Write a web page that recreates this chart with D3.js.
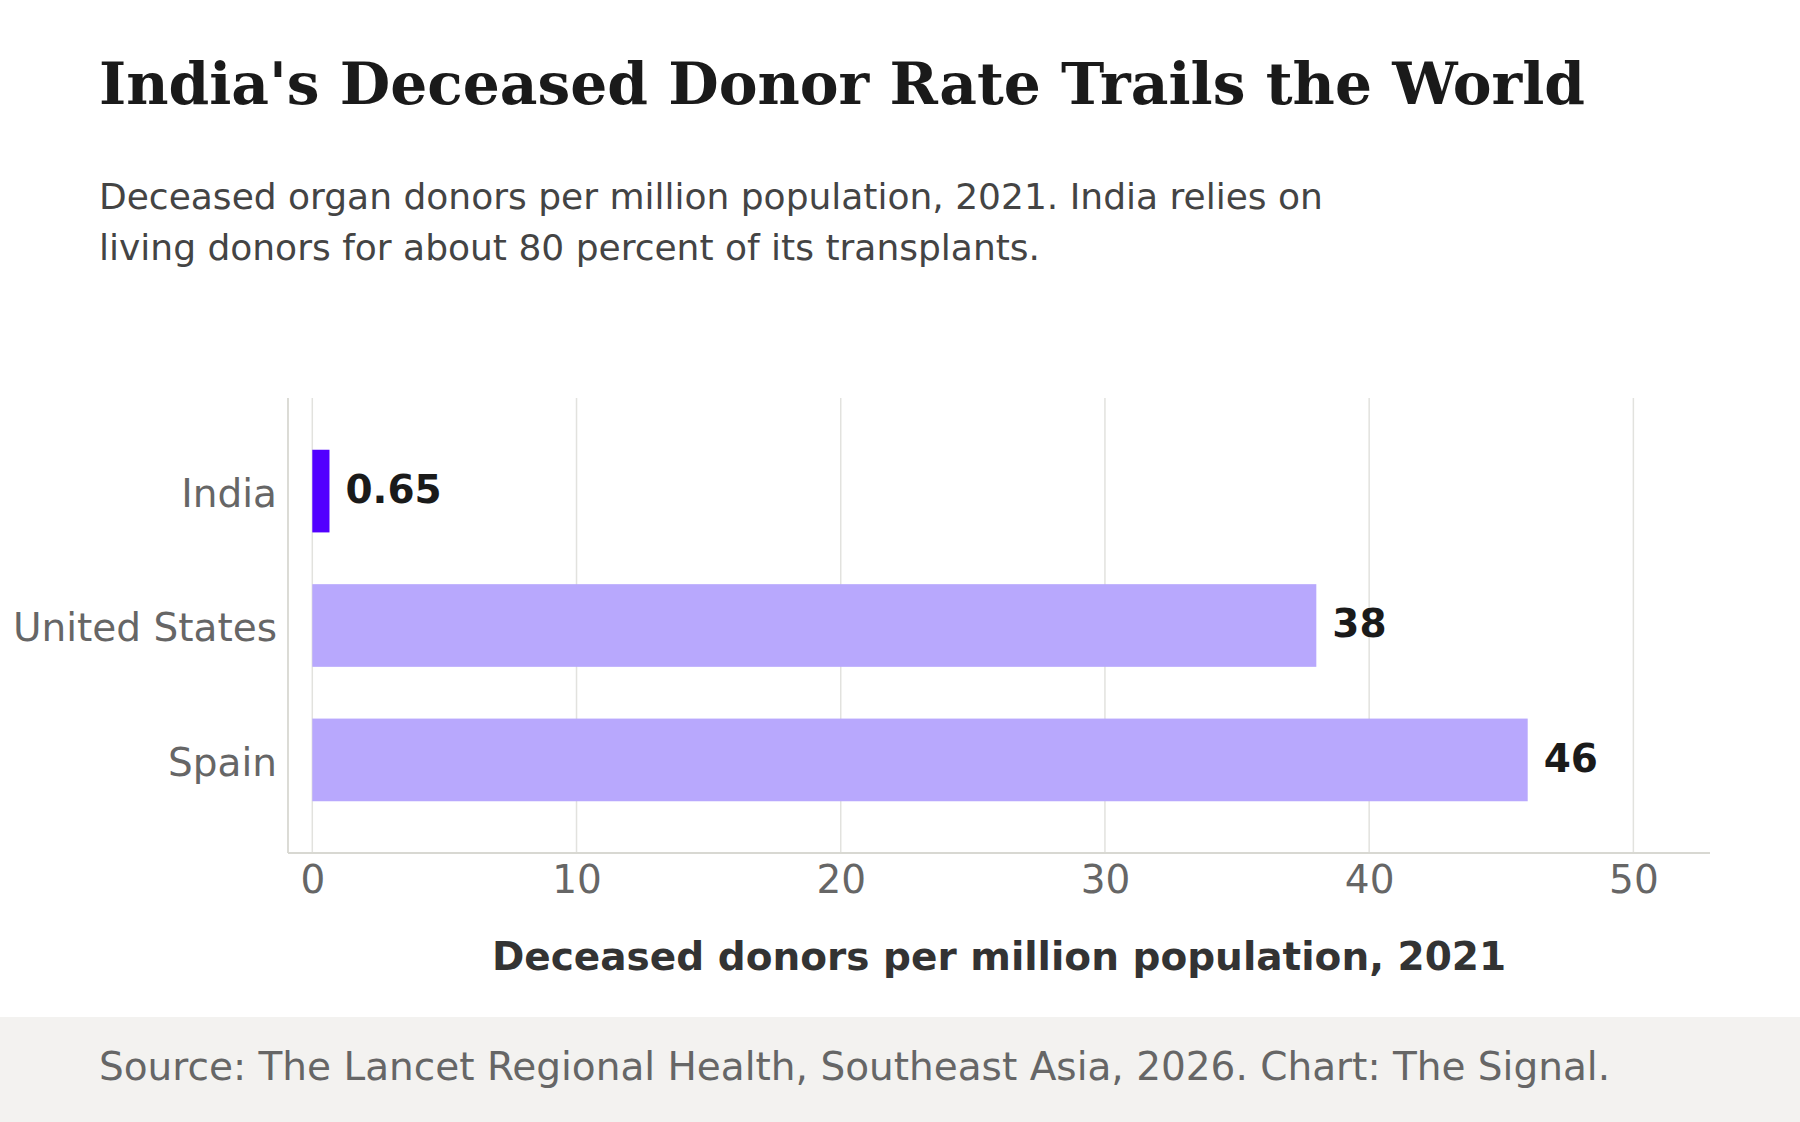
<!DOCTYPE html>
<html>
<head>
<meta charset="utf-8">
<script src="https://cdn.jsdelivr.net/npm/d3@7"></script>
<style>
  html, body { margin: 0; padding: 0; background: #ffffff; }
  svg { display: block; }
</style>
</head>
<body>
<svg id="chart" width="1800" height="1122"></svg>
<script>
const categories = ["India", "United States", "Spain"];
const values = [0.65, 38, 46];
const valueLabels = ["0.65", "38", "46"];
const xTicks = [0, 10, 20, 30, 40, 50];
const highlight = "India";

const titleText = "India's Deceased Donor Rate Trails the World";
const subtitleLines = [
  "Deceased organ donors per million population, 2021. India relies on",
  "living donors for about 80 percent of its transplants."
];
const xAxisTitle = "Deceased donors per million population, 2021";
const sourceText = "Source: The Lancet Regional Health, Southeast Asia, 2026. Chart: The Signal.";

const W = 1800, H = 1122;
const svg = d3.select("#chart");

const plot = { left: 288, right: 1710, top: 398, bottom: 853 };

const x = d3.scaleLinear().domain([-0.92, 52.9]).range([plot.left, plot.right]);
const y = d3.scaleBand().domain(categories).range([plot.top, plot.bottom]).paddingInner(0.385).paddingOuter(0.385);

// footer band
svg.append("rect").attr("x", 0).attr("y", 1017).attr("width", W).attr("height", H - 1017).attr("fill", "#f3f2f0");

// title
svg.append("text").attr("x", 99).attr("y", 104)
  .attr("font-family", "DejaVu Serif").attr("font-weight", "bold").attr("font-size", 58.2)
  .attr("fill", "#1a1a1a").text(titleText);

// subtitle
svg.append("g").selectAll("text").data(subtitleLines).join("text")
  .attr("x", 99).attr("y", (d, i) => 209 + i * 50.5)
  .attr("font-family", "DejaVu Sans").attr("font-size", 36)
  .attr("fill", "#444444").text(d => d);

// gridlines
svg.append("g").selectAll("line").data(xTicks).join("line")
  .attr("x1", d => x(d)).attr("x2", d => x(d))
  .attr("y1", plot.top).attr("y2", plot.bottom)
  .attr("stroke", "#e2e2de").attr("stroke-width", 1.5);

// axis spines
svg.append("line").attr("x1", plot.left).attr("x2", plot.left).attr("y1", plot.top).attr("y2", plot.bottom)
  .attr("stroke", "#d8d8d2").attr("stroke-width", 1.8);
svg.append("line").attr("x1", plot.left).attr("x2", plot.right).attr("y1", plot.bottom).attr("y2", plot.bottom)
  .attr("stroke", "#d8d8d2").attr("stroke-width", 1.8);

// bars
svg.append("g").selectAll("rect").data(categories).join("rect")
  .attr("x", x(0)).attr("y", d => y(d))
  .attr("width", (d, i) => x(values[i]) - x(0))
  .attr("height", y.bandwidth())
  .attr("fill", d => d === highlight ? "#5200ff" : "#b8a8fd");

// value labels
svg.append("g").selectAll("text").data(categories).join("text")
  .attr("x", (d, i) => x(values[i]) + 16)
  .attr("y", d => y(d) + y.bandwidth() / 2)
  .attr("dy", "0.3em")
  .attr("font-family", "DejaVu Sans").attr("font-weight", "bold").attr("font-size", 39)
  .attr("fill", "#1a1a1a").text((d, i) => valueLabels[i]);

// x axis
const xAxis = d3.axisBottom(x).tickValues(xTicks).tickSize(0).tickPadding(0).tickFormat(d3.format("d"));
const gx = svg.append("g").attr("transform", `translate(0,${plot.bottom})`).call(xAxis);
gx.select(".domain").remove();
gx.selectAll("text").attr("font-family", "DejaVu Sans").attr("font-size", 39)
  .attr("fill", "#666666").attr("dy", null).attr("y", 40);

// y axis
const yAxis = d3.axisLeft(y).tickSize(0).tickPadding(0);
const gy = svg.append("g").attr("transform", `translate(${277},0)`).call(yAxis);
gy.select(".domain").remove();
gy.selectAll("text").attr("font-family", "DejaVu Sans").attr("font-size", 39)
  .attr("fill", "#666666").attr("x", 0).attr("dy", "0.4em");

// axis title
svg.append("text").attr("x", (plot.left + plot.right) / 2).attr("y", 970)
  .attr("text-anchor", "middle")
  .attr("font-family", "DejaVu Sans").attr("font-weight", "bold").attr("font-size", 39)
  .attr("fill", "#333333").text(xAxisTitle);

// source
svg.append("text").attr("x", 99).attr("y", 1080)
  .attr("font-family", "DejaVu Sans").attr("font-size", 39)
  .attr("fill", "#666666").text(sourceText);
</script>
</body>
</html>
